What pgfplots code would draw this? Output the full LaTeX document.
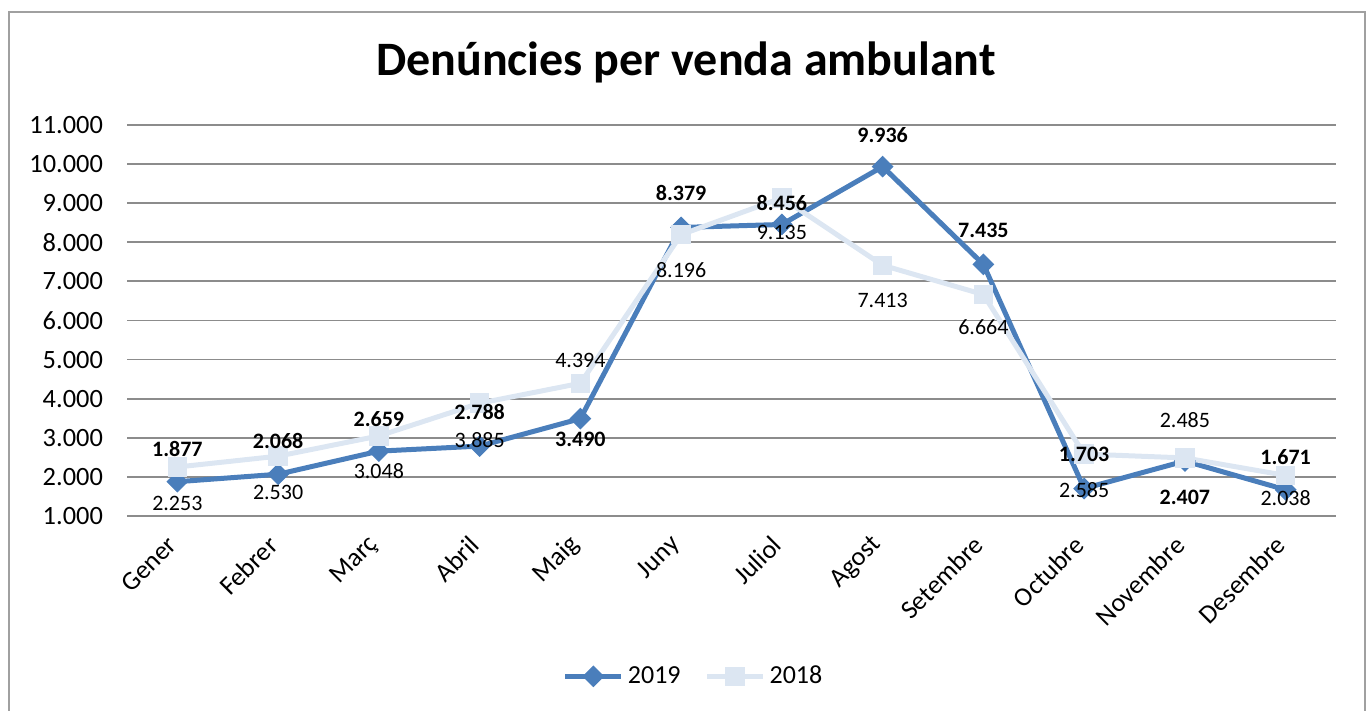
\documentclass[border=0pt]{standalone}
\usepackage{pgfplots}
\pgfplotsset{compat=1.18}
\usepackage{pgfplotstable}
\usepackage{fontspec}
\setmainfont{Carlito}
\definecolor{dark}{HTML}{4A7EBB}
\definecolor{light}{HTML}{DCE6F2}
\definecolor{gridc}{HTML}{8C8C8C}
\definecolor{framec}{HTML}{A0A0A0}

% x = month index, y = value, dy = label offset (px, up positive)
\pgfplotstableread{
x y dy
0 1877 33
1 2068 33
2 2659 32
3 2788 34
4 3490 -21
5 8379 34
6 8456 21
7 9936 32
8 7435 34
9 1703 34
10 2407 -36
11 1671 33
}\dataA

\pgfplotstableread{
x y dy
0 2253 -36
1 2530 -36
2 3048 -35
3 3885 -37
4 4394 23
5 8196 -35
6 9135 -35
7 7413 -35
8 6664 -33
9 2585 -36
10 2485 38
11 2038 -23
}\dataB

\begin{document}
\begin{tikzpicture}[x=1pt,y=1pt]
\useasboundingbox (0,0) rectangle (685,355.5);
\draw[framec, line width=1pt] (4.5,0) -- (4.5,349.5) -- (682.5,349.5) -- (682.5,0);
\node[font=\fontsize{24}{28}\selectfont\bfseries] at (343,324.5) {Denúncies per venda ambulant};
\begin{axis}[
  at={(63.5pt,97.5pt)}, anchor=south west,
  scale only axis, width=604.5pt, height=195.5pt,
  xmin=-0.5, xmax=11.5, ymin=1000, ymax=11000,
  xtick={0,...,11},
  xticklabels={Gener,Febrer,Març,Abril,Maig,Juny,Juliol,Agost,Setembre,Octubre,Novembre,Desembre},
  ytick={1000,2000,...,11000},
  scaled y ticks=false,
  ymajorgrids, grid style={gridc, line width=0.9pt},
  axis line style={draw=none},
  major tick length=0pt,
  tick label style={font=\fontsize{13.2}{15}\selectfont},
  xticklabel shift=10pt,
  xticklabel style={rotate=45, anchor=east},
  yticklabel style={anchor=east, xshift=-8.5pt},
  /pgf/number format/assume math mode=true,
  /pgf/number format/1000 sep={.},
  legend style={at={(0.4695,-0.41)}, anchor=center, draw=none, fill=none,
    font=\fontsize{13}{15}\selectfont, legend columns=-1,
    /tikz/every even column/.append style={column sep=10pt}},
  legend image code/.code={\draw[mark repeat=2,mark phase=2,#1] plot coordinates {(0pt,0pt) (14pt,0pt) (28pt,0pt)};},
  clip=false,
]
\addplot[dark, line width=2.5pt, mark=square*, mark size=3.6pt,
  mark options={rotate=45, line width=0.5pt, fill=dark, draw=dark}] table[x=x,y=y] {\dataA};
\addlegendentry{2019}
\addplot[light, line width=2.5pt, mark=square*, mark size=4.6pt,
  mark options={line width=0.5pt, fill=light, draw=light}] table[x=x,y=y] {\dataB};
\addlegendentry{2018}

\addplot[draw=none, mark=none, forget plot,
  visualization depends on={\thisrow{dy} \as \dy},
  nodes near coords,
  every node near coord/.style={anchor=center, text=black, yshift={0.5*\dy pt},
    font=\fontsize{11}{12}\selectfont\bfseries}]
  table[x=x,y=y] {\dataA};
\addplot[draw=none, mark=none, forget plot,
  visualization depends on={\thisrow{dy} \as \dy},
  nodes near coords,
  every node near coord/.style={anchor=center, text=black, yshift={0.5*\dy pt},
    font=\fontsize{11}{12}\selectfont}]
  table[x=x,y=y] {\dataB};
\end{axis}
\end{tikzpicture}
\end{document}
